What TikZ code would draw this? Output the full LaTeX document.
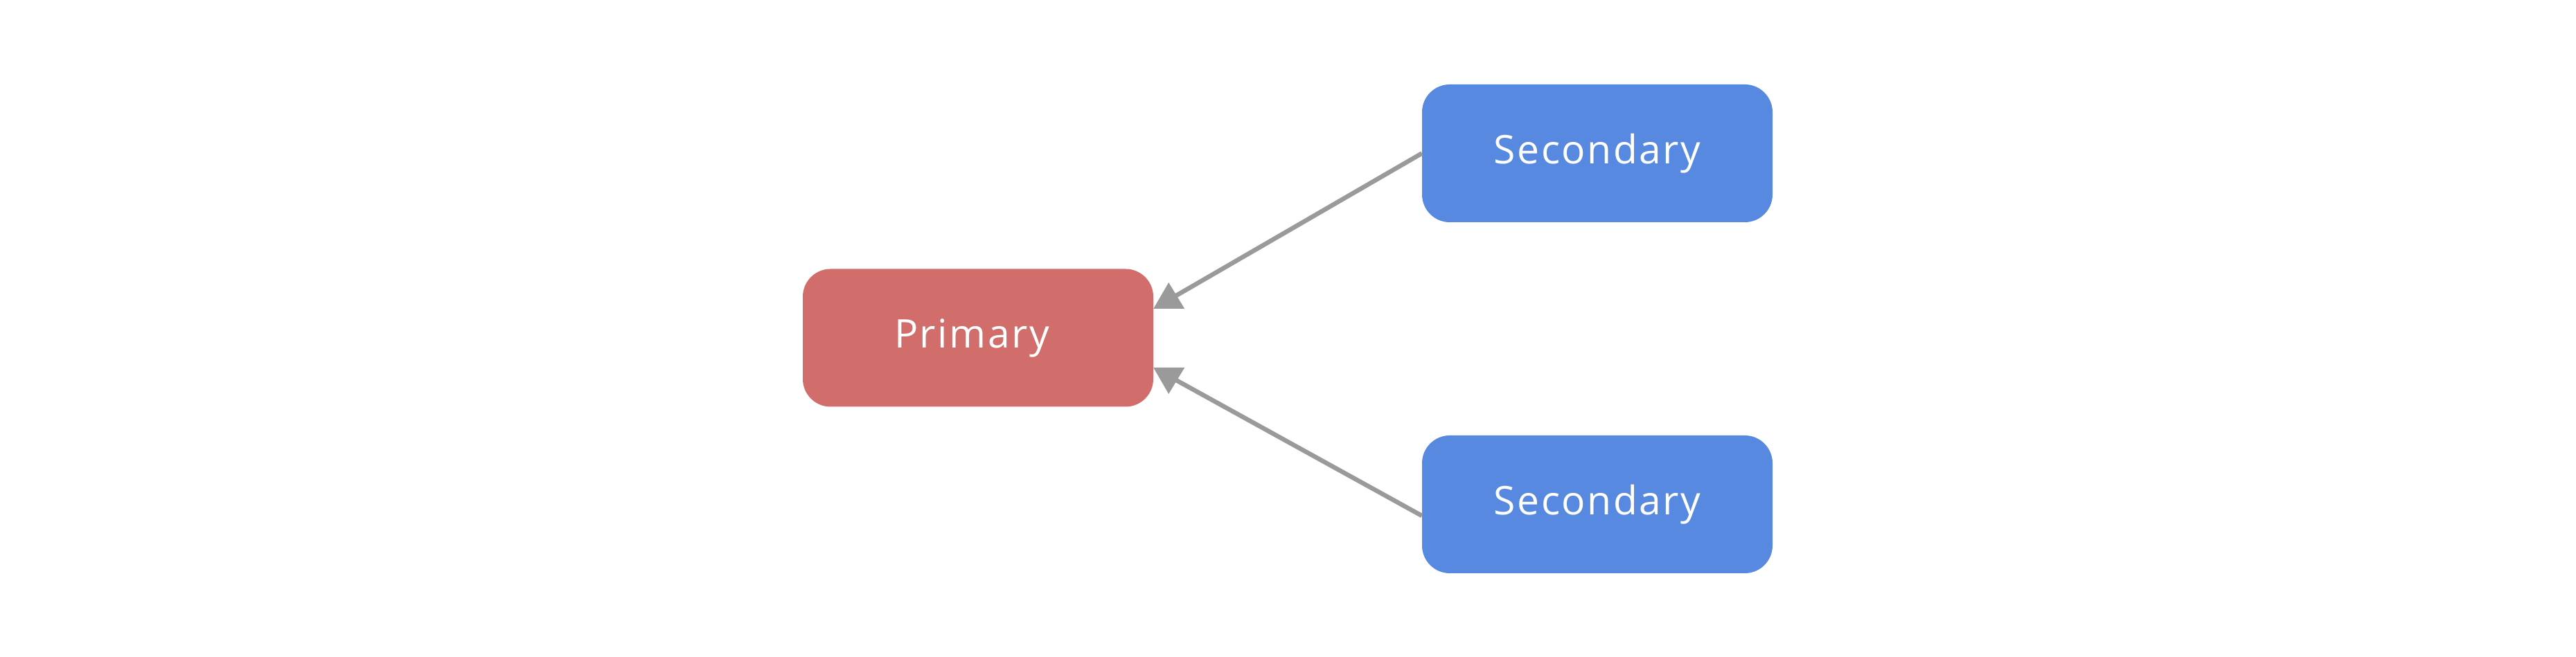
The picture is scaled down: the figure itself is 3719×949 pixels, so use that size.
\documentclass[tikz,border=0pt]{standalone}
\usepackage{fontspec}
\setmainfont{Open Sans}[LetterSpace=4.4]
\definecolor{primred}{HTML}{D16D6A}
\definecolor{secblue}{HTML}{5789E0}
\definecolor{edgegray}{HTML}{9A9A9A}
\begin{document}
\begin{tikzpicture}[x=1pt,y=1pt,
  box/.style={rounded corners=40pt, minimum width=506pt, minimum height=199pt,
    inner sep=0pt, text=white, font=\fontsize{57}{66}\selectfont},
  primbox/.style={box, fill=primred},
  secbox/.style={box, fill=secblue},
  edge/.style={draw=edgegray, line width=6.5pt},
  tip/.style={fill=edgegray}]
\useasboundingbox (0,0) rectangle (3719,949);
\node[primbox] (p) at (1412,461) {Primary\hspace*{18pt}};
\node[secbox] (s1) at (2306,727.5) {Secondary};
\node[secbox] (s2) at (2306,220.5) {Secondary};
\coordinate (t1) at ([yshift=42pt]p.east);
\coordinate (t2) at ([yshift=-43pt]p.east);
\coordinate (e2) at ([yshift=-16.5pt]s2.west);
\draw[edge, shorten >=24pt] (s1.west) -- (t1);
\draw[edge, shorten >=24pt] (e2) -- (t2);
\fill[tip] (t1) -- ++(45,0) -- ++(-23,38) -- cycle;
\fill[tip] (t2) -- ++(45,0) -- ++(-23,-38) -- cycle;
\end{tikzpicture}
\end{document}
